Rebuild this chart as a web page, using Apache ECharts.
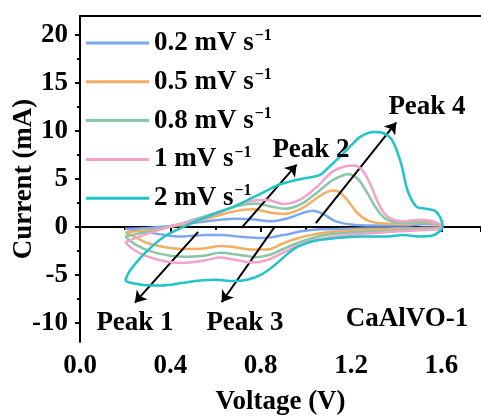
<!DOCTYPE html>
<html>
<head>
<meta charset="utf-8">
<script src="https://cdn.jsdelivr.net/npm/echarts@6/dist/echarts.min.js"></script>
<style>html,body{margin:0;padding:0;background:#fff}#c{width:481px;height:417px}</style>
</head>
<body>
<div id="c"></div>
<script>
// ---- data ----
const seriesNames = ['0.2 mV s', '0.5 mV s', '0.8 mV s', '1 mV s', '2 mV s'];
const xTicks = [0.0, 0.4, 0.8, 1.2, 1.6];
const yTicks = [-10, -5, 0, 5, 10, 15, 20];
const yMinorTicks = [-7.5, -2.5, 2.5, 7.5, 12.5, 17.5];

const cv02 = [[0.2,-0.2],[0.3,-0.1],[0.4,0.1],[0.5,0.4],[0.6,0.7],[0.7,0.85],[0.76,0.8],[0.85,0.6],[0.92,0.9],[0.98,1.4],[1.03,1.7],[1.08,1.3],[1.13,0.6],[1.2,0.25],[1.3,0.15],[1.45,0.15],[1.52,0.3],[1.58,0.25],[1.6,0.1],
  [1.6,0.0],[1.5,-0.1],[1.35,-0.15],[1.2,-0.2],[1.06,-0.25],[0.98,-0.45],[0.9,-0.85],[0.8,-1.15],[0.72,-1.05],[0.62,-0.85],[0.55,-0.85],[0.45,-1.0],[0.35,-0.75],[0.27,-0.45],[0.2,-0.2]];
const cv05 = [[0.2,-0.6],[0.25,-0.45],[0.32,-0.28],[0.4,0.0],[0.47,0.3],[0.55,0.8],[0.62,1.25],[0.7,1.7],[0.77,1.85],[0.84,1.5],[0.9,1.35],[0.97,1.8],[1.03,2.7],[1.08,3.5],[1.12,3.8],[1.15,3.6],[1.19,2.6],[1.23,1.4],[1.28,0.6],[1.35,0.35],[1.45,0.3],[1.52,0.5],[1.57,0.35],[1.6,0.1],
  [1.6,-0.05],[1.5,-0.15],[1.35,-0.25],[1.21,-0.35],[1.1,-0.55],[1.03,-0.8],[0.96,-1.2],[0.9,-1.7],[0.83,-2.35],[0.76,-2.35],[0.68,-2.1],[0.62,-2.0],[0.55,-2.25],[0.47,-2.3],[0.4,-2.2],[0.3,-1.7],[0.24,-1.0],[0.2,-0.6]];
const cv08 = [[0.2,-1.0],[0.24,-0.8],[0.3,-0.5],[0.38,-0.05],[0.47,0.5],[0.55,1.1],[0.62,1.6],[0.7,2.2],[0.78,2.45],[0.85,2.1],[0.91,1.9],[0.98,2.4],[1.05,3.6],[1.12,4.9],[1.19,5.5],[1.23,5.0],[1.27,3.6],[1.31,2.0],[1.35,0.9],[1.42,0.45],[1.5,0.5],[1.54,0.6],[1.58,0.4],[1.6,0.1],
  [1.6,-0.1],[1.5,-0.25],[1.35,-0.4],[1.21,-0.55],[1.1,-0.8],[1.03,-1.15],[0.96,-1.7],[0.9,-2.3],[0.84,-2.9],[0.78,-3.15],[0.7,-2.9],[0.62,-2.7],[0.55,-3.0],[0.47,-3.1],[0.4,-3.0],[0.32,-2.6],[0.25,-1.9],[0.2,-1.0]];
const cv1 = [[0.2,-1.6],[0.23,-1.3],[0.3,-0.7],[0.4,0.05],[0.48,0.5],[0.55,0.9],[0.62,1.5],[0.7,2.3],[0.77,2.75],[0.83,2.8],[0.9,2.4],[0.97,2.8],[1.05,4.2],[1.12,5.8],[1.21,6.4],[1.25,5.9],[1.29,4.2],[1.32,2.5],[1.36,1.1],[1.43,0.6],[1.5,0.75],[1.54,0.7],[1.58,0.4],[1.6,0.05],
  [1.6,-0.15],[1.5,-0.35],[1.35,-0.55],[1.21,-0.8],[1.1,-1.1],[1.0,-1.6],[0.94,-2.2],[0.88,-2.9],[0.82,-3.5],[0.76,-3.7],[0.68,-3.4],[0.62,-3.2],[0.55,-3.5],[0.45,-3.75],[0.38,-3.6],[0.3,-3.1],[0.24,-2.4],[0.2,-1.6]];
const cv2 = [[0.2,-5.6],[0.22,-4.6],[0.26,-3.4],[0.32,-2.0],[0.38,-0.9],[0.43,-0.3],[0.5,0.45],[0.55,0.95],[0.62,1.6],[0.68,2.1],[0.75,2.9],[0.82,3.7],[0.88,4.4],[0.94,4.8],[1.0,5.1],[1.06,5.4],[1.1,6.2],[1.15,7.3],[1.2,8.5],[1.24,9.4],[1.3,9.9],[1.34,9.8],[1.38,9.1],[1.42,6.7],[1.45,3.8],[1.49,2.1],[1.53,1.9],[1.57,1.7],[1.595,1.0],[1.605,0.0],
  [1.6,-0.3],[1.56,-0.9],[1.5,-1.0],[1.43,-0.85],[1.36,-1.0],[1.24,-1.0],[1.12,-1.2],[1.03,-1.5],[0.97,-2.0],[0.94,-2.4],[0.9,-3.2],[0.855,-4.1],[0.8,-5.0],[0.74,-5.5],[0.68,-5.65],[0.6,-5.5],[0.52,-5.6],[0.45,-5.85],[0.36,-6.1],[0.28,-6.05],[0.22,-5.8],[0.2,-5.6]];

const arrows = [
  [[0.523,-0.52],[0.243,-7.9]],
  [[0.863,0.06],[0.627,-7.85]],
  [[0.715,-0.1],[0.959,6.5]],
  [[1.044,0.4],[1.40,10.9]]
];
const peakLabels = ['Peak 1', 'Peak 2', 'Peak 3', 'Peak 4'];
const sampleLabel = 'CaAlVO-1';

// ---- chart ----
const colors = ['#7DA7EE', '#F2AE62', '#88C7A6', '#F3A2C9', '#20C5C9'];
const allData = [cv02, cv05, cv08, cv1, cv2];
const FONT = '"Liberation Serif", "Times New Roman", serif';
const FS = 27;
const chart = echarts.init(document.getElementById('c'), null, {renderer: 'canvas'});

const series = seriesNames.map((n, i) => ({
  name: n,
  type: 'line',
  data: allData[i],
  smooth: 0.35,
  symbol: 'none',
  lineStyle: {width: 2.5, color: colors[i]},
  itemStyle: {color: colors[i]},
  z: 2 + i
}));
series[series.length - 1].markLine = {
  silent: true,
  symbol: ['none', 'arrow'],
  symbolSize: 11,
  animation: false,
  label: {show: false},
  lineStyle: {color: '#000', width: 2, type: 'solid'},
  data: arrows.map(a => [{coord: a[0]}, {coord: a[1]}])
};

const txt = (t, x, y) => ({
  type: 'text', x: x, y: y, z: 100,
  style: {text: t, font: 'bold ' + FS + 'px ' + FONT, fill: '#000',
    align: 'center', verticalAlign: 'middle', textAlign: 'center', textVerticalAlign: 'middle'}
});

chart.setOption({
  animation: false,
  color: colors,
  grid: {left: 80, right: 0, top: 16, bottom: 75, containLabel: false, outerBoundsMode: 'none'},
  legend: {
    left: 86, top: 28, orient: 'vertical', padding: 0,
    icon: 'rect', itemWidth: 63, itemHeight: 3, itemGap: 9.8, itemTextGap: 6,
    data: seriesNames,
    formatter: n => '{a|' + n + '}{b|\u22121}',
    textStyle: {
      lineHeight: 28,
      rich: {
        a: {fontFamily: FONT, fontWeight: 'bold', fontSize: FS, color: '#000', lineHeight: 28},
        b: {fontFamily: FONT, fontWeight: 'bold', fontSize: 16, color: '#000', padding: [0, 0, 14, 1]}
      }
    }
  },
  xAxis: [{
    type: 'value', min: 0, max: 1.775, interval: 0.4,
    name: 'Voltage (V)', nameLocation: 'middle', nameGap: 47, nameMoveOverlap: false,
    nameTextStyle: {fontFamily: FONT, fontWeight: 'bold', fontSize: FS, color: '#000'},
    axisLine: {show: true, lineStyle: {color: '#000', width: 2}},
    axisTick: {show: true, inside: false, length: 5, lineStyle: {color: '#000', width: 2}},
    minorTick: {show: true, splitNumber: 2, length: 3, lineStyle: {color: '#000', width: 2}},
    splitLine: {show: false}, minorSplitLine: {show: false},
    axisLabel: {margin: 11, fontFamily: FONT, fontWeight: 'bold', fontSize: FS, color: '#000',
      showMaxLabel: false, formatter: v => v.toFixed(1)}
  }, {
    type: 'value', position: 'top', min: 0, max: 1.775,
    axisLine: {show: true, onZero: false, lineStyle: {color: '#000', width: 2}},
    axisTick: {show: false}, axisLabel: {show: false}, splitLine: {show: false}
  }],
  yAxis: [{
    type: 'value', min: -12, max: 22,
    name: 'Current (mA)', nameLocation: 'middle', nameGap: 42, nameMoveOverlap: false,
    nameTextStyle: {fontFamily: FONT, fontWeight: 'bold', fontSize: FS, color: '#000'},
    axisLine: {show: true, onZero: false, lineStyle: {color: '#000', width: 2}},
    axisTick: {show: true, inside: false, length: 5, customValues: yTicks, lineStyle: {color: '#000', width: 2}},
    axisLabel: {customValues: yTicks, margin: 12, fontFamily: FONT, fontWeight: 'bold', fontSize: FS, color: '#000'},
    splitLine: {show: false}
  }, {
    type: 'value', min: -12, max: 22, position: 'left',
    axisLine: {show: false},
    axisTick: {show: true, inside: false, length: 3, customValues: yMinorTicks, lineStyle: {color: '#000', width: 2}},
    axisLabel: {show: false}, splitLine: {show: false}
  }],
  series: series,
  graphic: [
    txt(peakLabels[0], 135, 323),
    txt(peakLabels[1], 311, 150),
    txt(peakLabels[2], 245, 323),
    txt(peakLabels[3], 427, 107),
    txt(sampleLabel, 407, 319)
  ]
});
</script>
</body>
</html>
